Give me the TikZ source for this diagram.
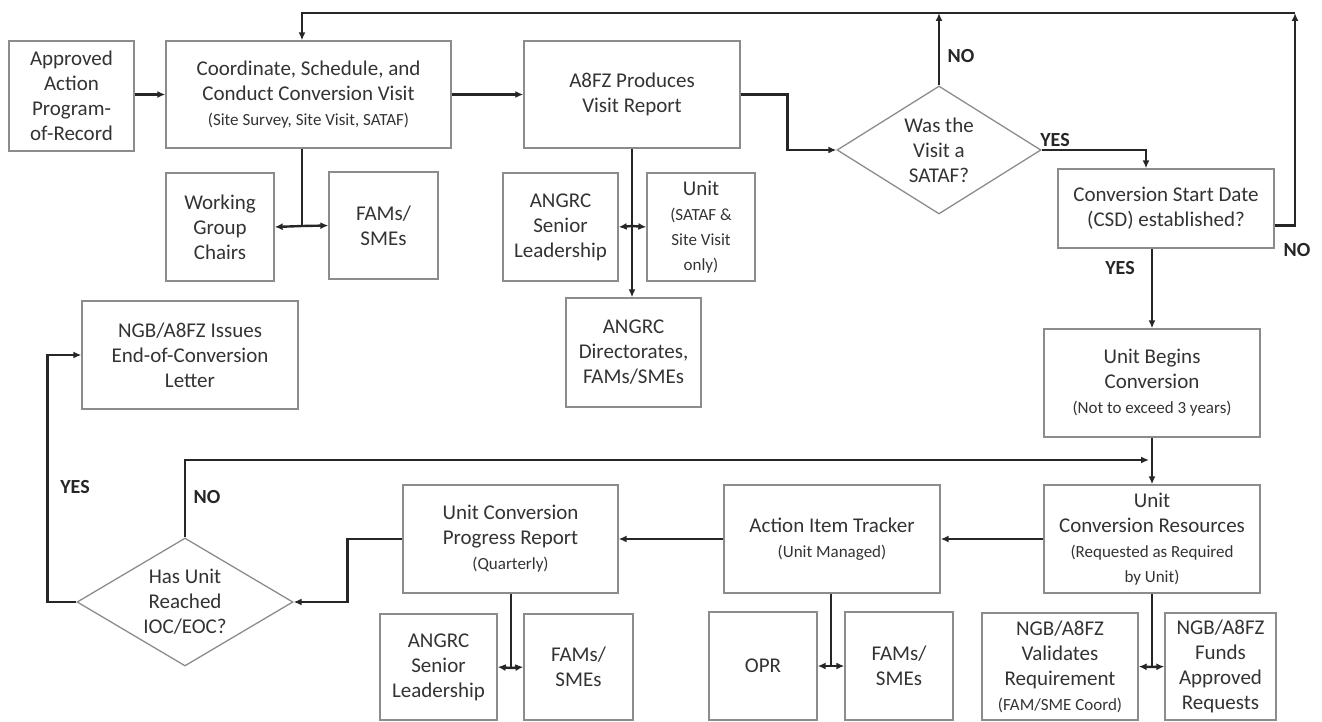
\documentclass[tikz,border=0pt]{standalone}
\usepackage{fontspec}
\setmainfont{Carlito}
\usepackage{tikz}
\usetikzlibrary{arrows.meta,shapes.geometric}
\newcommand{\subtxt}[1]{{\fontsize{17}{21}\selectfont #1}}

\begin{document}
\begin{tikzpicture}[x=1pt, y=-1pt,
    box/.style={rectangle, draw=black!45, line width=1.3pt, align=center,
                text=black!80, font=\fontsize{21}{25}\selectfont, inner sep=2pt},
    dec/.style={diamond, draw=black!45, line width=1.3pt, align=center,
                text=black!80, font=\fontsize{21}{25}\selectfont,
                inner sep=0pt, shape aspect=1.6},
    arr/.style={-{Latex[length=8pt, width=7pt]}, line width=2.4pt, draw=black!85},
    link/.style={line width=2.4pt, draw=black!85},
    lbl/.style={font=\fontsize{20}{22}\selectfont\bfseries, text=black!85}
  ]
  \useasboundingbox (0,0) rectangle (1322,722);

  %% ── visit planning (top row) ───────────────────────────────────────
  \node[box, minimum width=125, minimum height=110] (appr)  at (71.5,96)    {Approved\\Action\\Program-\\of-Record};
  \node[box, minimum width=285, minimum height=107] (coord) at (308.5,94.5) {Coordinate, Schedule, and\\Conduct Conversion Visit\\\subtxt{(Site Survey, Site Visit, SATAF)}};
  \node[box, minimum width=108, minimum height=108] (wgc)   at (220,227)    {Working\\Group\\Chairs};
  \node[box, minimum width=109, minimum height=107] (fams1) at (383.5,225.5) {FAMs/\\SMEs};
  \node[box, minimum width=216, minimum height=107] (rep)   at (632,94.5)   {A8FZ Produces\\Visit Report};
  \node[box, minimum width=115, minimum height=108] (lead1) at (560.5,227)  {ANGRC\\Senior\\Leadership};
  \node[box, minimum width=108, minimum height=108] (unit)  at (701,227)    {Unit\\\subtxt{(SATAF \&}\\\subtxt{Site Visit}\\\subtxt{only)}};
  \node[box, minimum width=135, minimum height=109] (dir)   at (633.5,352.5) {ANGRC\\Directorates,\\FAMs/SMEs};
  \node[dec, minimum width=204, minimum height=128] (sataf) at (939,150)    {Was the\\Visit a\\SATAF?};
  \node[box, minimum width=216, minimum height=79]  (csd)   at (1166,208.5) {Conversion Start Date\\(CSD) established?};
  \node[box, minimum width=216, minimum height=108] (begin) at (1152,383)   {Unit Begins\\Conversion\\\subtxt{(Not to exceed 3 years)}};

  %% ── conversion tracking (bottom row) ───────────────────────────────
  \node[box, minimum width=216, minimum height=108] (res)   at (1152,539)   {Unit\\Conversion Resources\\\subtxt{(Requested as Required}\\\subtxt{by Unit)}};
  \node[box, minimum width=216, minimum height=108] (track) at (832,539)    {Action Item Tracker\\\subtxt{(Unit Managed)}};
  \node[box, minimum width=215, minimum height=108] (prog)  at (510.5,539)  {Unit Conversion\\Progress Report\\\subtxt{(Quarterly)}};
  \node[dec, minimum width=216, minimum height=128] (ioc)   at (185,602)    {Has Unit\\Reached\\IOC/EOC?};
  \node[box, minimum width=216, minimum height=108] (eoc)   at (190,355)    {NGB/A8FZ Issues\\End-of-Conversion\\Letter};
  \node[box, minimum width=117, minimum height=106] (lead2) at (438.5,667)  {ANGRC\\Senior\\Leadership};
  \node[box, minimum width=109, minimum height=106] (fams2) at (578.5,667)  {FAMs/\\SMEs};
  \node[box, minimum width=108, minimum height=108] (opr)   at (763,666)    {OPR};
  \node[box, minimum width=108, minimum height=108] (fams3) at (899,666)    {FAMs/\\SMEs};
  \node[box, minimum width=156, minimum height=107] (valid) at (1060,666.5) {NGB/A8FZ\\Validates\\Requirement\\\subtxt{(FAM/SME Coord)}};
  \node[box, minimum width=111, minimum height=107] (fund)  at (1220.5,666.5) {NGB/A8FZ\\Funds\\Approved\\Requests};

  %% ── junctions ──────────────────────────────────────────────────────
  \coordinate (j1) at (302,226);
  \coordinate (j2) at (632,226);
  \coordinate (tl) at (302,13);
  \coordinate (tr) at (1295,13);
  \coordinate (j5) at (1149,460);
  \coordinate (j6) at (1152,667);
  \coordinate (j7) at (831,666);
  \coordinate (j8) at (511,668);

  %% ── connectors, top ────────────────────────────────────────────────
  \draw[arr] (appr.east |- coord.west) -- (coord.west);
  \draw[link] (j1 |- coord.south) -- (j1);
  \draw[arr] (j1) -- (wgc.east);
  \draw[arr] (j1) -- (fams1.west);
  \draw[arr] (coord.east) -- (rep.west);
  \draw[link] (rep.south) -- (j2);
  \draw[arr] (j2) -- (dir.north -| j2);
  \draw[arr] (j2) -- (lead1.east);
  \draw[arr] (j2) -- (unit.west);
  \draw[arr] (rep.east) -- ++(47,0) |- (sataf.west);
  \draw[arr] (sataf.north) -- (sataf.north |- tl);
  \draw[arr] (sataf.east) -| ([xshift=-20pt]csd.north);
  \draw[arr] ([yshift=-17pt]csd.east) -| (tr);
  \draw[arr] (tr) -- (tl) -- (tl |- coord.north);
  \draw[arr] (csd.south -| begin.north) -- (begin.north);
  \draw[arr] (begin) -- (res);

  %% ── connectors, bottom ─────────────────────────────────────────────
  \draw[arr] (res) -- (track);
  \draw[arr] (track) -- (prog);
  \draw[arr] (prog.west) -- ++(-55,0) |- (ioc.east);
  \draw[arr] (ioc.west) -- ++(-29,0) |- (eoc.west);
  \draw[arr] (ioc.north) |- (j5);
  \draw[link] (res.south) -- (j6);
  \draw[arr] (j6) -- (valid.east);
  \draw[arr] (j6) -- (fund.west);
  \draw[link] (track.south -| j7) -- (j7);
  \draw[arr] (j7) -- (opr.east);
  \draw[arr] (j7) -- (fams3.west);
  \draw[link] (prog.south -| j8) -- (j8);
  \draw[arr] (j8) -- (lead2.east);
  \draw[arr] (j8) -- (fams2.west);

  %% ── decision labels ────────────────────────────────────────────────
  \node[lbl] (no1)  at (961,56)   {NO};
  \node[lbl] (yes1) at (1055,140) {YES};
  \node[lbl] (no2)  at (1297,250) {NO};
  \node[lbl] (yes2) at (1120,268) {YES};
  \node[lbl] (yes3) at (75,487)   {YES};
  \node[lbl] (no3)  at (207,497)  {NO};

\end{tikzpicture}
\end{document}
